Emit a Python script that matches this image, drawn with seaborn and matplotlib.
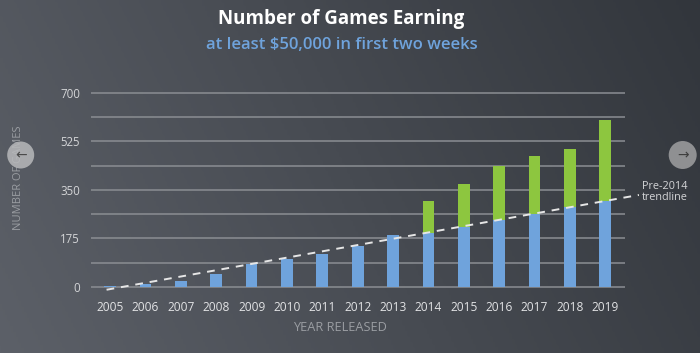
import matplotlib
matplotlib.use("Agg")
import matplotlib.pyplot as plt
import seaborn as sns
import pandas as pd
import numpy as np
from matplotlib.colors import LinearSegmentedColormap
from matplotlib.patches import Circle

# Data
years = [2005, 2006, 2007, 2008, 2009, 2010, 2011, 2012, 2013, 2014, 2015, 2016, 2017, 2018, 2019]
pre_trend = [3, 12, 20, 46, 83, 100, 120, 149, 188, 193, 217, 241, 265, 288, 311]
totals = [3, 12, 20, 46, 83, 100, 120, 149, 188, 311, 372, 436, 474, 497, 603]
trend_years = [2004.9, 2019.95]
trend_values = [-10, 332]
y_ticks = [0, 175, 350, 525, 700]

df = pd.DataFrame({"year": [str(y) for y in years], "base": pre_trend, "total": totals})

sns.set_theme(style="white")
plt.rcParams["font.family"] = ["Open Sans", "DejaVu Sans"]

fig = plt.figure(figsize=(7, 3.53), dpi=100)

# gradient background, lighter on the left
bg = fig.add_axes([0, 0, 1, 1], zorder=-10)
gx = np.linspace(0, 1, 256)
gy = np.linspace(0, 1, 128)
grad = 0.8 * gx[None, :] + 0.2 * gy[:, None]
cmap_bg = LinearSegmentedColormap.from_list("bg", ["#5c6068", "#32363c"])
bg.imshow(grad, aspect="auto", cmap=cmap_bg, extent=[0, 1, 0, 1], origin="lower")
bg.set_axis_off()

ax = fig.add_axes([0.13, 0.1635, 0.763, 0.5849])
ax.set_facecolor("none")

for g in np.arange(0, 701, 87.5):
    ax.axhline(g, color="#8b8e93", lw=1.1, zorder=0)

sns.barplot(data=df, x="year", y="total", color="#8dc63f", width=0.33,
            saturation=1, linewidth=0, edgecolor="none", ax=ax, zorder=2)
sns.barplot(data=df, x="year", y="base", color="#6fa3dc", width=0.33,
            saturation=1, linewidth=0, edgecolor="none", ax=ax, zorder=3)

tx = [y - years[0] for y in trend_years]
ax.plot(tx, trend_values, color="#e6e6e6", lw=1.4, ls=(0, (4, 3.5)), zorder=4,
        clip_on=False)

ax.set_xlim(-0.54, 14.56)
ax.set_ylim(-30, 715)
ax.set_yticks(y_ticks)
ax.set_yticklabels([str(v) for v in y_ticks])
ax.tick_params(axis="y", length=0, pad=8, labelsize=8.3, labelcolor="#d4d5d7")
ax.tick_params(axis="x", length=0, pad=4, labelsize=8.6, labelcolor="#e2e3e5")
for s in ax.spines.values():
    s.set_visible(False)
ax.set_xlabel("")
ax.set_ylabel("")

fig.text(0.486, 0.071, "YEAR RELEASED", ha="center", va="center",
         fontsize=9.2, color="#9a9da2")
fig.text(0.027, 0.496, "NUMBER OF GAMES", ha="center", va="center",
         rotation=90, fontsize=8, color="#9a9da2")

fig.text(0.488, 0.947, "Number of Games Earning", ha="center", va="center",
         fontsize=13.5, fontweight="bold", color="#ffffff")
fig.text(0.488, 0.873, "at least $50,000 in first two weeks", ha="center",
         va="center", fontsize=12, fontweight="semibold", color="#6fa3dc")

fig.text(0.949, 0.456, "Pre-2014\ntrendline", ha="center", va="center",
         fontsize=7.8, color="#d4d5d7", linespacing=1.1)

# carousel buttons (drawn in inches so they stay round)
tr = fig.dpi_scale_trans
left_btn = Circle((0.207, 1.98), 0.135, transform=tr,
                  facecolor="#b8b9bb", alpha=0.85, edgecolor="none", zorder=5)
right_btn = Circle((6.827, 1.98), 0.14, transform=tr,
                   facecolor="#8f9092", edgecolor="none", zorder=5)
fig.add_artist(left_btn)
fig.add_artist(right_btn)
fig.text(0.207, 1.98, "←", transform=tr, ha="center", va="center", fontsize=10,
         color="#4a4a4a", family="DejaVu Sans", zorder=6)
fig.text(6.827, 1.98, "→", transform=tr, ha="center", va="center", fontsize=10,
         color="#3e3e3e", family="DejaVu Sans", zorder=6)

fig.savefig("out.png", dpi=100)
